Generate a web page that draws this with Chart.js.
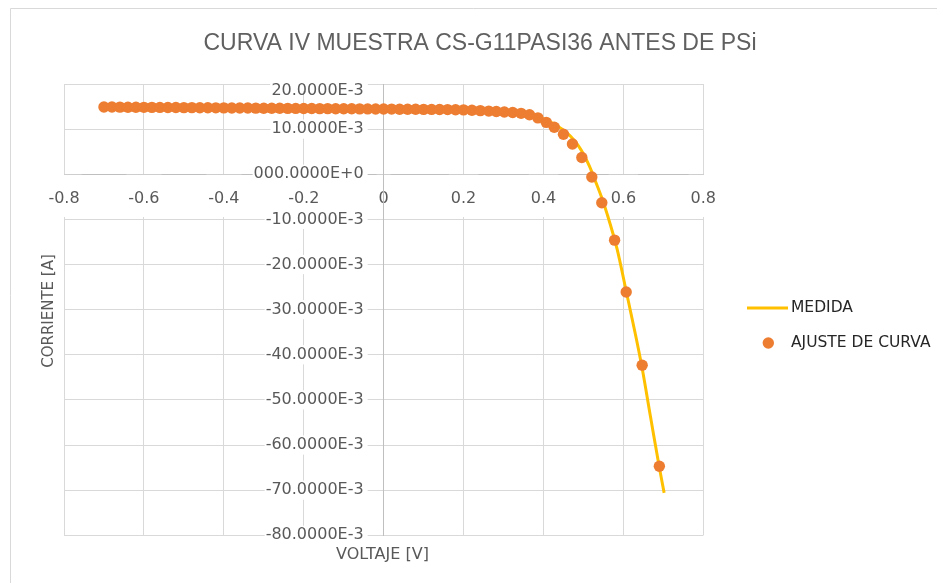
<!DOCTYPE html>
<html>
<head>
<meta charset="utf-8">
<script src="https://cdn.jsdelivr.net/npm/chart.js@4.4.1/dist/chart.umd.min.js"></script>
<style>
  html, body { margin: 0; padding: 0; background: #ffffff; }
  #wrap { position: relative; width: 937px; height: 583px; }
</style>
</head>
<body>
<div id="wrap"><canvas id="c"></canvas></div>
<script>
// ---- data (current in mA, voltage in V) ----
const chartTitle = 'CURVA IV MUESTRA CS-G11PASI36 ANTES DE PSi';
const xAxisTitle = 'VOLTAJE [V]';
const yAxisTitle = 'CORRIENTE [A]';
const seriesNames = ['MEDIDA', 'AJUSTE DE CURVA'];

// MEDIDA (line)
const medidaV = [-0.70, -0.40, -0.10, 0.10, 0.20, 0.28, 0.34, 0.38, 0.41, 0.435, 0.458, 0.475, 0.4875, 0.50, 0.515, 0.529, 0.545, 0.56, 0.584, 0.608, 0.629, 0.647, 0.668, 0.69, 0.702];
const medidaI = [14.90, 14.71, 14.51, 14.38, 14.25, 13.97, 13.55, 12.90, 11.90, 10.70, 9.20, 7.70, 6.30, 4.50, 1.80, -1.30, -5.00, -9.00, -16.50, -26.30, -35.00, -43.00, -53.80, -65.00, -70.60];

// AJUSTE DE CURVA (points)
const ajusteV = [-0.70, -0.68, -0.66, -0.64, -0.62, -0.60, -0.58, -0.56, -0.54, -0.52,
                 -0.50, -0.48, -0.46, -0.44, -0.42, -0.40, -0.38, -0.36, -0.34, -0.32,
                 -0.30, -0.28, -0.26, -0.24, -0.22, -0.20, -0.18, -0.16, -0.14, -0.12,
                 -0.10, -0.08, -0.06, -0.04, -0.02, 0.00, 0.02, 0.04, 0.06, 0.08,
                 0.10, 0.12, 0.14, 0.16, 0.18, 0.20, 0.221, 0.242, 0.263, 0.282,
                 0.302, 0.323, 0.344, 0.365, 0.386, 0.407, 0.427, 0.45, 0.4725, 0.496,
                 0.521, 0.546, 0.578, 0.607, 0.647, 0.69];
const ajusteI = [14.90, 14.89, 14.87, 14.86, 14.85, 14.83, 14.82, 14.81, 14.80, 14.78,
                 14.77, 14.76, 14.74, 14.73, 14.72, 14.71, 14.69, 14.68, 14.67, 14.65,
                 14.64, 14.63, 14.62, 14.60, 14.59, 14.58, 14.57, 14.55, 14.54, 14.53,
                 14.51, 14.50, 14.49, 14.48, 14.46, 14.45, 14.44, 14.42, 14.41, 14.40,
                 14.38, 14.37, 14.35, 14.33, 14.30, 14.26, 14.20, 14.10, 14.00, 13.90,
                 13.80, 13.70, 13.50, 13.20, 12.50, 11.50, 10.40, 8.85, 6.70, 3.70,
                 -0.60, -6.30, -14.60, -26.10, -42.30, -64.70];

// tick labels
const xTickValues = [-0.8, -0.6, -0.4, -0.2, 0, 0.2, 0.4, 0.6, 0.8];
const xTickLabels = ['-0.8', '-0.6', '-0.4', '-0.2', '0', '0.2', '0.4', '0.6', '0.8'];
const yTickValues = [0.02, 0.01, 0, -0.01, -0.02, -0.03, -0.04, -0.05, -0.06, -0.07, -0.08];
const yTickLabels = ['20.0000E-3', '10.0000E-3', '000.0000E+0', '-10.0000E-3', '-20.0000E-3',
                     '-30.0000E-3', '-40.0000E-3', '-50.0000E-3', '-60.0000E-3', '-70.0000E-3', '-80.0000E-3'];

// ---- styles ----
const LINE_COLOR = '#FFC000';
const DOT_COLOR = '#ED7D31';
const TEXT_GRAY = '#595959';
const GRID = '#D9D9D9';
const Y_MAX = 0.02;

function lookup(values, labels, v) {
  for (let i = 0; i < values.length; i++) {
    if (Math.abs(values[i] - v) < 1e-6) return labels[i];
  }
  return '';
}
function isTopTick(v) { return Math.abs(v - Y_MAX) < 1e-6; }

const medidaData = medidaV.map((v, i) => ({x: v, y: medidaI[i] / 1000}));
const ajusteData = ajusteV.map((v, i) => ({x: v, y: ajusteI[i] / 1000}));

const decor = {
  id: 'decor',
  beforeDraw(chart) {
    const ctx = chart.ctx;
    ctx.save();
    ctx.fillStyle = '#ffffff';
    ctx.fillRect(0, 0, chart.width, chart.height);
    ctx.strokeStyle = GRID;
    ctx.lineWidth = 1;
    ctx.beginPath();
    ctx.moveTo(10.5, 583);
    ctx.lineTo(10.5, 8.5);
    ctx.lineTo(937, 8.5);
    ctx.stroke();
    ctx.restore();
  },
  afterDraw(chart) {
    const ctx = chart.ctx;
    ctx.save();
    // title
    ctx.fillStyle = '#606060';
    ctx.font = "23px 'Liberation Sans'";
    ctx.textAlign = 'center';
    ctx.textBaseline = 'middle';
    ctx.fillText(chartTitle, 480, 44);
    // x axis title
    ctx.fillStyle = TEXT_GRAY;
    ctx.font = "16px 'DejaVu Sans'";
    ctx.fillText(xAxisTitle, 382.5, 554.5);
    // y axis title
    ctx.save();
    ctx.translate(49.5, 311);
    ctx.rotate(-Math.PI / 2);
    ctx.font = "15px 'DejaVu Sans'";
    ctx.fillText(yAxisTitle, 0, 0);
    ctx.restore();
    // legend
    ctx.textAlign = 'left';
    ctx.font = "15.5px 'DejaVu Sans'";
    ctx.fillStyle = '#262626';
    ctx.strokeStyle = LINE_COLOR;
    ctx.lineWidth = 3;
    ctx.beginPath();
    ctx.moveTo(747, 308);
    ctx.lineTo(788, 308);
    ctx.stroke();
    ctx.fillText(seriesNames[0], 791, 308);
    ctx.fillStyle = DOT_COLOR;
    ctx.beginPath();
    ctx.arc(768.3, 343, 5.7, 0, Math.PI * 2);
    ctx.fill();
    ctx.fillStyle = '#262626';
    ctx.fillText(seriesNames[1], 791, 343);
    ctx.restore();
  }
};

new Chart(document.getElementById('c'), {
  type: 'scatter',
  data: {
    datasets: [
      {
        label: seriesNames[1],
        data: ajusteData,
        order: 0,
        showLine: false,
        pointRadius: 5.7,
        pointBorderWidth: 0,
        pointBackgroundColor: DOT_COLOR,
        pointBorderColor: DOT_COLOR,
        pointHoverRadius: 5.7
      },
      {
        label: seriesNames[0],
        data: medidaData,
        order: 1,
        showLine: true,
        borderColor: LINE_COLOR,
        borderWidth: 3,
        pointRadius: 0,
        pointHoverRadius: 0,
        cubicInterpolationMode: 'monotone',
        fill: false
      }
    ]
  },
  options: {
    responsive: true,
    maintainAspectRatio: false,
    animation: false,
    devicePixelRatio: 1,
    layout: { padding: { left: 64, right: 233.7, top: 84, bottom: 47.7 } },
    plugins: {
      legend: { display: false },
      title: { display: false },
      tooltip: { enabled: false }
    },
    scales: {
      x: {
        type: 'linear',
        position: { y: 0 },
        min: -0.8,
        max: 0.8,
        ticks: {
          stepSize: 0.2,
          autoSkip: false,
          maxRotation: 0,
          padding: 14.5,
          color: TEXT_GRAY,
          font: { family: 'DejaVu Sans', size: 16 },
          showLabelBackdrop: true,
          backdropColor: '#ffffff',
          backdropPadding: { top: 14, bottom: 9, left: 2, right: 2 },
          callback: (v) => lookup(xTickValues, xTickLabels, v)
        },
        grid: { color: GRID, lineWidth: 1, drawTicks: false },
        border: { display: true, color: '#BFBFBF', width: 1 }
      },
      y: {
        type: 'linear',
        position: 'center',
        min: -0.08,
        max: Y_MAX,
        ticks: {
          stepSize: 0.01,
          autoSkip: false,
          padding: 20,
          color: TEXT_GRAY,
          font: (c) => (c.tick && isTopTick(c.tick.value))
            ? { family: 'DejaVu Sans', size: 16, lineHeight: 0.82 }
            : { family: 'DejaVu Sans', size: 16 },
          showLabelBackdrop: true,
          backdropColor: '#ffffff',
          backdropPadding: { top: 0, bottom: 0, left: 1, right: 4 },
          callback: (v) => isTopTick(v) ? ['', lookup(yTickValues, yTickLabels, v)] : lookup(yTickValues, yTickLabels, v)
        },
        grid: { color: GRID, lineWidth: 1, drawTicks: false },
        border: { display: true, color: '#BFBFBF', width: 1 }
      }
    }
  },
  plugins: [decor]
});
</script>
</body>
</html>
